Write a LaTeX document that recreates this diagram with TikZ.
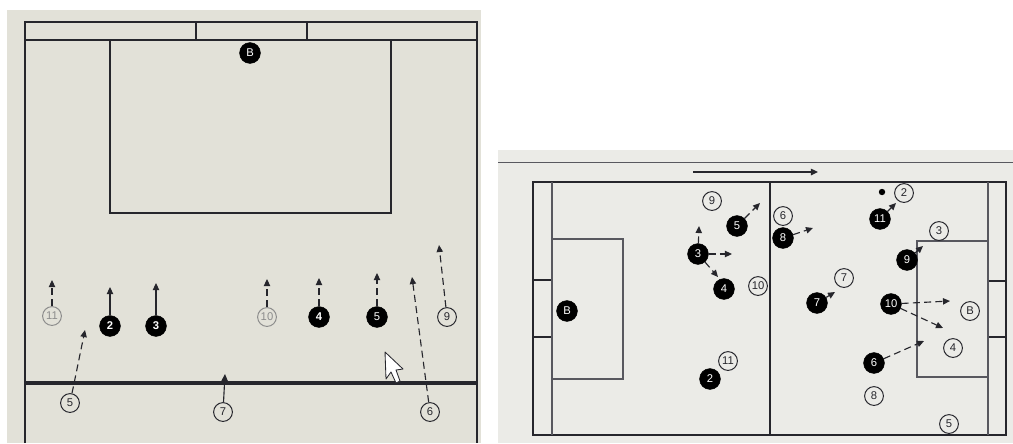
\documentclass[tikz,border=0pt]{standalone}
\usepackage{fontspec}
\setmainfont{Liberation Sans}
\usetikzlibrary{arrows.meta, positioning}
\definecolor{photobeige}{RGB}{226,225,216}
\definecolor{photogray}{RGB}{235,235,231}
\definecolor{lineink}{RGB}{38,38,44}
\definecolor{innerink}{RGB}{88,88,95}
\definecolor{fadedink}{RGB}{140,140,140}
\tikzset{
  attacker/.style={
    circle, fill=black, draw=black, minimum size=0.52cm, inner sep=0pt,
    text=white, font=\footnotesize
  },
  defender/.style={
    circle, draw=lineink, line width=0.7pt, minimum size=0.47cm, inner sep=0pt,
    text=lineink, font=\footnotesize
  },
  fadeddefender/.style={defender, draw=fadedink, text=fadedink},
  ball/.style={circle, fill=black, minimum size=0.16cm, inner sep=0pt},
  pitchline/.style={draw=lineink, line width=1.2pt},
  innerline/.style={draw=innerink, line width=0.8pt},
  run/.style={-{Triangle[length=5pt,width=4.5pt]}, line width=0.8pt, color=lineink},
  dashrun/.style={run, dash pattern=on 5pt off 3pt}
}

\begin{document}
\begin{tikzpicture}[x=0.025cm, y=-0.025cm]
  \useasboundingbox (0,0) rectangle (1013,443);

  % half pitch (left photo)
  \fill[photobeige] (7,10) rectangle (481,443);
  \draw[pitchline] (25,443) -- (25,22) -- (477,22) -- (477,443);
  \draw[pitchline] (25,40) -- (477,40);
  \draw[pitchline] (196,22) -- (196,40);
  \draw[pitchline] (307,22) -- (307,40);
  \draw[pitchline] (110,40) -- (110,213) -- (391,213) -- (391,40);
  \draw[pitchline, line width=2.4pt] (25,383) -- (477,383);

  \node[attacker] (hkeeper) at (250,53) {B};
  \node[fadeddefender] (hw11) at (52,316) {11};
  \node[attacker, font=\footnotesize\bfseries] (hb2) at (110,326) {2};
  \node[attacker, font=\footnotesize\bfseries] (hb3) at (156,326) {3};
  \node[fadeddefender] (hw10) at (267,317) {10};
  \node[attacker, font=\footnotesize\bfseries] (hb4) at (319,317) {4};
  \node[attacker] (hb5) at (377,317) {5};
  \node[defender] (hw9) at (447,317) {9};
  \node[defender] (hw5) at (70,403) {5};
  \node[defender] (hw7) at (223,412) {7};
  \node[defender] (hw6) at (430,412) {6};

  \coordinate (hw11run) at (52,280);
  \coordinate (hb2run) at (110,287);
  \coordinate (hb3run) at (156,283);
  \coordinate (hw10run) at (267,279);
  \coordinate (hb4run) at (319,278);
  \coordinate (hb5run) at (377,273);
  \coordinate (hw9run) at (439,245);
  \coordinate (hw5run) at (85,330);
  \coordinate (hw7run) at (225,374);
  \coordinate (hw6run) at (412,277);

  \draw[dashrun] (hw11) -- (hw11run);
  \draw[run] (hb2) -- (hb2run);
  \draw[run] (hb3) -- (hb3run);
  \draw[dashrun] (hw10) -- (hw10run);
  \draw[dashrun] (hb4) -- (hb4run);
  \draw[dashrun] (hb5) -- (hb5run);
  \draw[dashrun] (hw9) -- (hw9run);
  \draw[dashrun] (hw5) -- (hw5run);
  \draw[run] (hw7) -- (hw7run);
  \draw[dashrun] (hw6) -- (hw6run);

  % mouse pointer
  \draw[fill=white, draw=lineink, line width=0.6pt, line join=round]
    (385,352) -- (386,379) -- (391,372) -- (396,383) -- (400,381)
    -- (396,370) -- (403,369) -- cycle;

  % full pitch (right photo)
  \fill[photogray] (498,150) rectangle (1013,443);
  \draw[innerline, line width=0.6pt] (498,162) -- (1013,162);
  \coordinate (dirstart) at (693,172);
  \coordinate (dirend) at (818,172);
  \draw[run, line width=1pt] (dirstart) -- (dirend);

  \draw[pitchline] (533,182) rectangle (1006,435);
  \draw[pitchline] (770,182) -- (770,435);
  \draw[innerline] (552,182) -- (552,435);
  \draw[innerline] (988,182) -- (988,435);
  \draw[pitchline] (533,280) rectangle (552,337);
  \draw[pitchline] (988,281) rectangle (1006,337);
  \draw[innerline] (552,239) rectangle (623,379);
  \draw[innerline] (917,241) rectangle (988,377);

  \node[attacker] (fkeeper) at (567,311) {B};
  \node[defender] (fw9) at (712,201) {9};
  \node[attacker] (fb5) at (737,226) {5};
  \node[attacker] (fb3) at (698,254) {3};
  \node[attacker] (fb4) at (724,289) {4};
  \node[defender] (fw10) at (758,286) {10};
  \node[defender] (fw11) at (728,361) {11};
  \node[attacker] (fb2) at (710,379) {2};
  \node[defender] (fw6) at (783,216) {6};
  \node[attacker] (fb8) at (783,238) {8};
  \node[ball] (ball) at (882,192) {};
  \node[defender] (fw2) at (904,193) {2};
  \node[attacker] (fb11) at (880,219) {11};
  \node[defender] (fw3) at (939,231) {3};
  \node[attacker] (fb9) at (907,260) {9};
  \node[defender] (fw7) at (844,278) {7};
  \node[attacker] (fb7) at (817,303) {7};
  \node[attacker] (fb10) at (891,304) {10};
  \node[defender] (fwkeeper) at (970,311) {B};
  \node[defender] (fw4) at (953,348) {4};
  \node[attacker] (fb6) at (874,363) {6};
  \node[defender] (fw8) at (874,396) {8};
  \node[defender] (fw5) at (949,424) {5};

  \coordinate (fb5run) at (760,203);
  \coordinate (fb3up) at (699,226);
  \coordinate (fb3right) at (732,254);
  \coordinate (fb3down) at (718,277);
  \coordinate (fb8run) at (813,228);
  \coordinate (fb11run) at (896,203);
  \coordinate (fb9run) at (923,246);
  \coordinate (fb7run) at (835,292);
  \coordinate (fb10right) at (950,301);
  \coordinate (fb10down) at (943,328);
  \coordinate (fb6run) at (924,341);

  \draw[dashrun] (fb5) -- (fb5run);
  \draw[dashrun] (fb3) -- (fb3up);
  \draw[dashrun] (fb3) -- (fb3right);
  \draw[dashrun] (fb3) -- (fb3down);
  \draw[dashrun] (fb8) -- (fb8run);
  \draw[run] (fb11) -- (fb11run);
  \draw[run] (fb9) -- (fb9run);
  \draw[run] (fb7) -- (fb7run);
  \draw[dashrun] (fb10) -- (fb10right);
  \draw[dashrun] (fb10) -- (fb10down);
  \draw[dashrun] (fb6) -- (fb6run);
\end{tikzpicture}
\end{document}
